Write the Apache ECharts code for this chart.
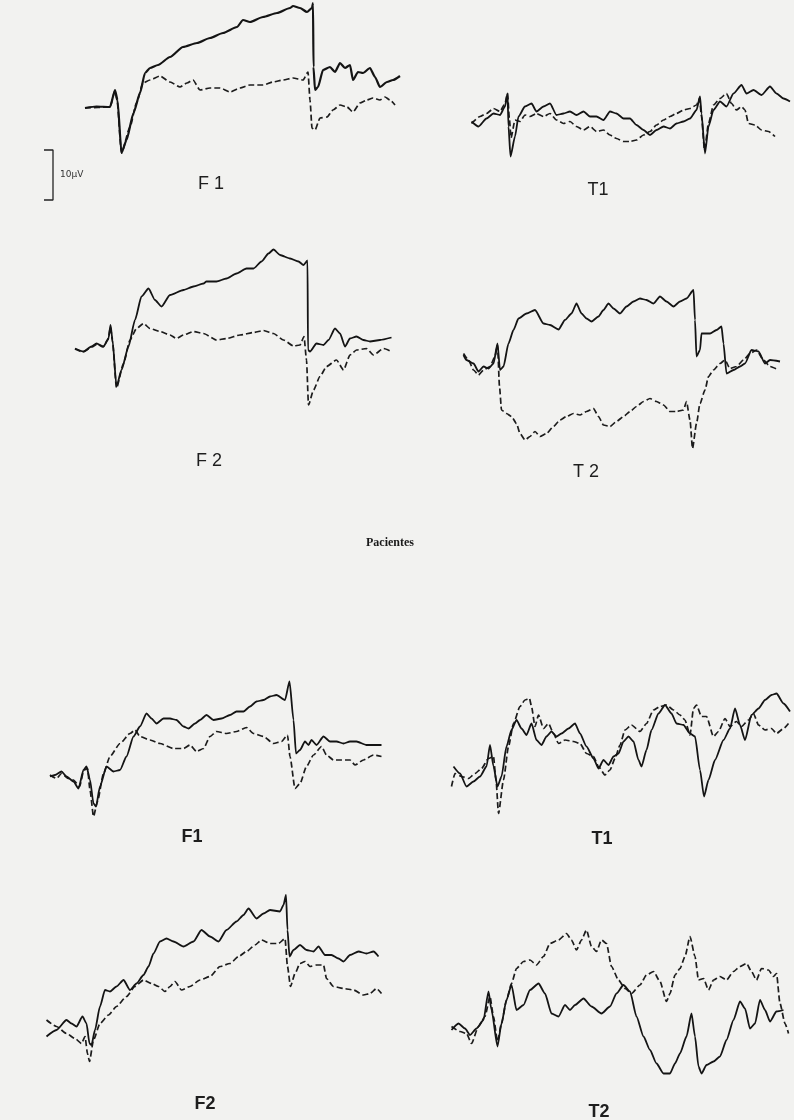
<!DOCTYPE html>
<html><head><meta charset="utf-8">
<script src="https://cdn.jsdelivr.net/npm/echarts@6/dist/echarts.min.js"></script>
<style>html,body{margin:0;padding:0;background:#f2f2f0}#c{width:794px;height:1120px}</style>
</head><body><div id="c"></div><script>
// time (ms) / amplitude (µV) pairs
const f1CtrlSolid = [[90,-0.6],[113,-0.3],[140,-0.4],[150,3],[155,1],[163,-9.6],[173,-7],[187,-1.6],[200,2.4],[210,6.4],[220,7.4],[236,8],[260,9.6],[286,11.6],[314,12.4],[340,13.4],[366,14.4],[394,15.6],[406,17],[420,16.6],[446,17.6],[474,18.4],[500,19.4],[506,19.8],[520,19.4],[534,18.6],[544,19.4],[546,20.4],[547,7.6],[550,3],[556,3.6],[566,7],[580,7.6],[590,6.6],[600,8.4],[610,7.4],[620,8],[626,5],[636,6.6],[646,6.4],[660,7.4],[670,5.6],[680,3.6],[694,4.6],[706,5],[720,5.8]];
const f1CtrlDashed = [[90,-0.6],[140,-0.4],[150,2.8],[154,1],[163,-9.6],[180,-4.4],[193,0.4],[206,4.4],[220,5],[240,5.8],[260,4.6],[280,3.6],[294,4.4],[306,5],[320,3],[340,3.4],[360,3.4],[380,2.6],[400,3.4],[420,4],[446,4],[466,4.6],[486,5],[506,5.4],[526,5],[536,6.6],[540,1],[544,-4.6],[550,-5],[560,-2.6],[574,-2.4],[586,-1],[600,0],[614,-0.4],[626,-1.4],[640,0.4],[654,1],[666,1.4],[680,1],[690,1.6],[700,1],[710,0]];

const t1CtrlSolid = [[83,-0.3],[97,-1.3],[113,0.3],[127,1.3],[140,1],[150,2.7],[155,5.3],[157,-1.3],[161,-7.3],[170,-3.3],[177,0.7],[190,2.7],[203,3.3],[213,1.7],[227,2.7],[240,3.3],[253,1],[267,1.3],[280,1.7],[293,1],[307,1.7],[320,0.7],[333,0.7],[347,0],[360,1.7],[373,1.3],[387,0.3],[400,0.3],[413,-1],[427,-2],[440,-3],[453,-2],[467,-1.3],[480,-1.7],[493,-0.7],[507,-0.3],[520,0.3],[533,2],[540,4.7],[543,1.3],[550,-6.7],[557,-1.3],[567,2],[580,3.7],[593,2.7],[607,5.3],[623,7],[633,5.3],[647,6],[663,5],[680,6.7],[693,5.3],[707,4.3],[720,3.7]];
const t1CtrlDashed = [[83,-0.7],[100,0.7],[113,1.3],[127,2.3],[140,1.7],[150,3.3],[155,5.3],[159,0],[162,-3.6],[170,0],[180,-0.3],[190,1],[200,0.7],[213,1.3],[227,0.7],[240,1.3],[253,0],[267,-0.7],[280,-0.3],[293,-1.3],[307,-2],[320,-1.3],[333,-2.3],[347,-2],[360,-3],[373,-3.7],[387,-4.3],[400,-4.3],[413,-4],[427,-3],[440,-2.3],[453,-1],[467,0],[480,0.7],[493,1.3],[507,2],[520,2.3],[533,3],[539,4.3],[543,0.7],[549,-6],[557,-0.7],[567,3],[580,4.3],[593,5.3],[603,3.3],[613,2],[623,2.7],[630,2],[637,-0.7],[650,-1],[663,-2],[677,-2.3],[690,-3.3]];

const f2CtrlSolid = [[70,-3.7],[87,-4.3],[103,-3.3],[113,-2.7],[127,-3.3],[137,-1.7],[141,1],[145,-2],[153,-11.3],[163,-8],[177,-3.3],[190,2],[203,6.7],[217,8.3],[230,6],[243,4.7],[260,7],[287,8],[307,8.7],[327,9.3],[333,9.7],[353,9.7],[373,10.3],[393,11.3],[413,12.3],[427,12.3],[443,13.7],[457,15.3],[467,16.1],[480,15],[500,14.3],[517,13.7],[527,13],[535,13.9],[536,-4],[540,-4.3],[553,-2.7],[567,-3],[577,-2],[590,0.3],[600,-0.7],[610,-3.3],[620,-1.7],[633,-1.3],[647,-2],[660,-2.3],[680,-2],[703,-1.5]];
const f2CtrlDashed = [[70,-3.8],[86,-4.4],[104,-3.4],[114,-2.8],[126,-3.4],[136,-2],[141,0.6],[145,-2.4],[153,-11.6],[167,-6.7],[180,-2],[193,0.3],[207,1.3],[220,0.3],[240,-0.3],[260,-1],[273,-1.7],[287,-1],[307,-0.3],[327,-0.7],[353,-2],[373,-1.7],[400,-1],[427,-0.5],[447,-0.1],[467,-0.7],[487,-2],[507,-3.2],[520,-3],[528,-1.3],[533,-6],[537,-15],[547,-12],[560,-9.3],[573,-7.3],[593,-6],[607,-8],[620,-5],[633,-4],[653,-3.7],[667,-5],[687,-3.7],[703,-4.3]];

const t2CtrlSolid = [[67,3],[73,2],[87,1.3],[97,-0.3],[107,0.7],[117,0.3],[127,1.3],[135,5.3],[140,0],[147,0.7],[157,5.3],[167,8],[177,10.3],[193,11.3],[210,12],[227,9.3],[240,9],[257,8.1],[270,10],[283,11.3],[293,13.3],[303,11.3],[313,10.3],[323,9.7],[337,10.7],[347,12],[357,13.3],[367,12.3],[380,11.3],[393,12.7],[407,13.7],[420,14.3],[433,14],[447,13.3],[460,14.7],[473,13.7],[487,12.7],[500,13.7],[513,14.3],[527,16],[530,10],[533,2.7],[540,4],[543,7.3],[560,7.3],[573,8],[583,8.7],[587,5.3],[593,-0.7],[607,0],[620,0.7],[630,1.3],[643,4],[657,3.7],[670,1.3],[680,2],[700,1.7]];
const t2CtrlDashed = [[67,3.3],[77,2],[87,0],[97,-1],[107,0],[120,0.7],[130,2.7],[135,5],[139,-3.3],[143,-8],[153,-8.7],[163,-9.3],[173,-10.7],[180,-12.7],[190,-14],[200,-13.3],[210,-12.3],[220,-13.3],[233,-12.7],[247,-11.3],[260,-10],[273,-9.3],[287,-8.7],[300,-9],[313,-8.3],[327,-7.7],[337,-9.3],[347,-11],[360,-11.3],[373,-10.3],[387,-9.3],[400,-8.3],[413,-7.3],[427,-6.3],[440,-5.7],[453,-6.3],[467,-7],[480,-8.3],[493,-8.3],[507,-8],[513,-6.3],[520,-10],[525,-15.7],[533,-10.7],[540,-6.7],[550,-4],[557,-1.3],[567,0],[580,1.3],[590,2],[600,0.3],[613,0.7],[627,2],[640,3.3],[653,4],[667,2],[680,0.7],[697,0]];

const f1PatSolid = [[20,-5.3],[30,-5],[43,-4.3],[53,-5.3],[67,-6.3],[77,-7.7],[87,-4],[93,-3.3],[100,-6],[107,-10.7],[112,-11.3],[120,-7.3],[133,-3.3],[147,-4.3],[160,-4],[173,-1.3],[187,2.7],[200,4.7],[213,7.3],[223,6.3],[233,5.3],[247,6.3],[260,6.3],[273,6],[287,4.7],[297,4.3],[310,5.3],[320,6],[333,7],[347,6],[363,6.3],[380,7],[393,7.7],[407,7.7],[420,8.7],[433,9.7],[447,10],[460,10.7],[473,11],[490,10],[499,13.7],[507,6],[512,-0.7],[520,0],[530,1.7],[537,1],[543,2],[553,1],[567,2.7],[580,1.7],[593,1.7],[607,1.3],[620,1.7],[633,1.7],[653,1],[683,1]];
const f1PatDashed = [[20,-5],[33,-5.7],[43,-4.7],[57,-5.7],[67,-6],[79,-7.3],[88,-4],[95,-3.7],[100,-8],[107,-13.3],[115,-10.3],[127,-4.7],[140,-1.3],[160,1.3],[180,3.3],[190,4],[200,2.7],[220,2],[240,1.3],[267,0.3],[287,0.3],[300,1],[313,-0.3],[327,0.3],[340,2.7],[353,3.7],[373,3.3],[393,3.7],[413,4.5],[427,3.3],[447,2.7],[467,1.3],[483,1.7],[495,3],[500,-1.3],[510,-7.7],[520,-6.7],[533,-3.3],[547,-1],[563,0.7],[573,-1],[587,-2],[603,-2],[620,-2],[630,-3],[647,-2],[667,-1],[683,-1.3]];

const t1PatSolid = [[47,-4.3],[60,-5.7],[73,-8.3],[87,-7.3],[100,-6.3],[113,-4.3],[120,0],[127,-4.3],[135,-8.3],[143,-6.3],[153,-0.3],[163,3],[173,5],[183,3.3],[193,2],[203,4.3],[213,1],[223,0],[233,1.7],[243,2.7],[253,1.7],[263,2.3],[277,3.3],[290,4.3],[300,2.3],[313,-0.3],[327,-2.7],[337,-4.7],[347,-3],[357,-4],[367,-2.3],[377,-1.7],[387,0.7],[397,1.7],[407,0.7],[417,-3],[423,-4.3],[433,-1],[443,3],[457,6.3],[470,8],[483,6.3],[493,4.3],[507,4],[520,2.3],[530,1.7],[540,-5],[548,-10.3],[557,-7],[570,-3],[587,1],[600,3.3],[610,7.3],[620,4],[630,1],[643,6],[657,7.3],[670,9],[683,10],[693,10.3],[707,8.3],[720,6.7]];
const t1PatDashed = [[43,-8.3],[50,-5.7],[63,-6.3],[77,-6.7],[90,-5.7],[103,-4.7],[117,-2.7],[127,-2.3],[132,-7],[137,-13.7],[147,-7],[157,-0.3],[167,4.3],[180,7.7],[190,9],[199,9.3],[203,7.7],[210,3.7],[217,6],[227,3.3],[237,4.3],[247,2.3],[257,0.3],[270,1],[287,0.7],[300,0.3],[313,-1.7],[327,-2.3],[337,-4.3],[350,-6],[360,-5],[370,-2.7],[380,0],[390,3],[403,4],[420,2.7],[433,4.3],[447,7],[460,7.7],[473,8],[487,7],[500,6],[510,5],[520,2],[527,7.3],[533,8],[543,5.7],[553,5.7],[567,1.7],[577,2.7],[590,5.3],[600,3.7],[613,4.7],[623,3.7],[637,5],[647,6.3],[657,4],[670,3],[683,3.3],[693,2.3],[707,3.3],[717,4.3]];

const f2PatSolid = [[13,-11.3],[33,-10],[53,-8],[63,-8.7],[73,-9.3],[85,-7.3],[93,-8.7],[99,-12.7],[103,-13],[110,-10],[120,-5.3],[130,-2],[140,-2.3],[153,-1.3],[167,0],[180,-2],[193,-0.7],[207,1],[217,2.7],[227,5.3],[240,7.7],[253,8.3],[267,7.7],[287,6.7],[307,7.7],[323,10],[340,8.7],[357,7.7],[373,10],[393,11.7],[407,13],[417,14.3],[433,12.3],[447,13.3],[460,14],[480,13.7],[487,15],[492,17],[495,10],[499,4.7],[507,6],[520,7],[533,6],[547,5.7],[557,6.7],[570,5],[583,5],[597,4.3],[607,3.7],[620,5],[637,5.7],[653,5.3],[667,5.7],[677,4.7]];
const f2PatDashed = [[13,-8],[33,-9.3],[53,-10.7],[70,-11.7],[83,-12.7],[90,-11.3],[95,-14.7],[99,-16.3],[107,-12],[120,-8.7],[137,-7],[153,-5.3],[173,-3.3],[190,-1.3],[207,0],[223,-0.7],[237,-1.3],[250,-2.3],[260,-1.3],[270,-0.3],[283,-2],[300,-1.3],[320,0],[340,0.7],[360,2.7],[380,3.3],[397,4.7],[413,5.7],[430,7],[443,8],[460,7.3],[477,7.3],[490,8.3],[495,2.7],[501,-1.3],[510,1.3],[520,3.3],[530,3.7],[540,2.7],[553,3],[567,3],[573,0.3],[587,-1.3],[607,-1.7],[627,-2],[647,-3],[660,-2.7],[673,-1.7],[683,-2.7]];

const t2PatSolid = [[43,-6],[57,-4.7],[70,-5.7],[80,-7],[93,-5.7],[107,-4],[117,1.7],[123,-2],[135,-9.3],[143,-4.7],[153,0],[163,3],[173,-2],[187,-1],[200,2],[217,3.3],[230,1.3],[243,-2.7],[257,-3.3],[270,-1],[280,-2],[290,-1],[307,0.3],[323,-1.3],[343,-2.7],[360,-1.3],[373,1.3],[387,3],[400,1.7],[413,-3.3],[427,-7.3],[440,-10],[453,-12.7],[467,-14.7],[480,-14.7],[490,-12.7],[500,-10.7],[513,-7.3],[523,-2.7],[530,-7.3],[537,-13.3],[543,-14.7],[553,-13],[567,-12.3],[580,-11.3],[593,-8],[607,-4],[620,-0.3],[630,-1.7],[640,-5.7],[650,-4.7],[660,0],[670,-2],[680,-4.3],[693,-2.3],[707,-2]];
const t2PatDashed = [[43,-5.3],[60,-6.3],[73,-6.7],[83,-8.7],[97,-5.3],[110,-3.3],[120,0.7],[127,-3.3],[135,-8.3],[143,-4.7],[153,0],[163,3.3],[173,6.3],[187,7.7],[200,8],[213,7],[227,8.7],[240,11.3],[257,12],[273,13.3],[283,12],[293,10],[303,12],[313,14],[323,10.7],[333,9.7],[343,12],[353,11.3],[363,6.7],[377,4],[390,2.3],[403,1.3],[420,3],[433,5],[447,5.7],[460,3.7],[473,-0.3],[480,1.3],[490,5],[500,6.3],[510,8.7],[520,12.7],[530,8.7],[537,4],[547,4.3],[557,2],[567,4],[580,4.7],[593,4],[607,5.7],[620,6.7],[633,7.3],[643,5.7],[653,4],[663,6.3],[677,6],[687,4.7],[693,5.3],[700,-0.7],[710,-4.7],[717,-6.7]];

// scale bar (10 µV) drawn in the first panel's coordinates
const scaleBar = [[8,-9],[26,-9],[26,-19],[8,-19]];

const panelLabels = ['F 1','T1','F 2','T 2','F1','T1','F2','T2'];
const panelSolid = [f1CtrlSolid,t1CtrlSolid,f2CtrlSolid,t2CtrlSolid,f1PatSolid,t1PatSolid,f2PatSolid,t2PatSolid];
const panelDashed = [f1CtrlDashed,t1CtrlDashed,f2CtrlDashed,t2CtrlDashed,f1PatDashed,t1PatDashed,f2PatDashed,t2PatDashed];
const groupTitle = 'Pacientes';
const scaleText = '10µV';

// layout (pixels)
const boxes = [
  {left:40,  mid:105, lx:211, ly:184},
  {left:430, mid:120, lx:598, ly:190},
  {left:40,  mid:330, lx:209, ly:461},
  {left:430, mid:370, lx:586, ly:472},
  {left:40,  mid:750, lx:192, ly:837},
  {left:430, mid:745, lx:602, ly:839},
  {left:40,  mid:980, lx:205, ly:1104},
  {left:430, mid:1000,lx:599, ly:1112}
];
const W = 360, H = 200;

const grid = [], xAxis = [], yAxis = [], series = [], graphic = [];
boxes.forEach((b,i)=>{
  grid.push({left:b.left, top:b.mid-H/2, width:W, height:H});
  xAxis.push({type:'value', gridIndex:i, min:0, max:720, show:false});
  yAxis.push({type:'value', gridIndex:i, min:-20, max:20, show:false});
  const bold = (i===0);
  series.push({type:'line', xAxisIndex:i, yAxisIndex:i, data:panelDashed[i], showSymbol:false, clip:false,
    smooth:0.2, smoothMonotone:'x', silent:true,
    lineStyle:{color:'#1c1c1c', width:1.7, type:[6,3]}});
  series.push({type:'line', xAxisIndex:i, yAxisIndex:i, data:panelSolid[i], showSymbol:false, clip:false,
    smooth:0.2, smoothMonotone:'x', silent:true,
    lineStyle:{color:'#141414', width: bold?2.2:1.8}});
  graphic.push({type:'text', x:b.lx, y:b.ly, style:{text:panelLabels[i], fill:'#1e1e1e',
    font:(i<4?'normal 18px "Liberation Sans", sans-serif':'bold 18px "Liberation Sans", sans-serif'),
    align:'center', verticalAlign:'middle'}});
});
series.push({type:'line', xAxisIndex:0, yAxisIndex:0, data:scaleBar, showSymbol:false, clip:false, silent:true,
  lineStyle:{color:'#222', width:1.3}});
graphic.push({type:'text', x:60, y:175, style:{text:scaleText, fill:'#333', font:'9px "DejaVu Sans", sans-serif', verticalAlign:'middle'}});
graphic.push({type:'text', x:390, y:543, style:{text:groupTitle, fill:'#1a1a1a', font:'bold 12px "Liberation Serif", serif', align:'center', verticalAlign:'middle'}});

const chart = echarts.init(document.getElementById('c'), null, {renderer:'canvas'});
chart.setOption({backgroundColor:'#f2f2f0', animation:false, grid, xAxis, yAxis, series, graphic});
</script></body></html>
